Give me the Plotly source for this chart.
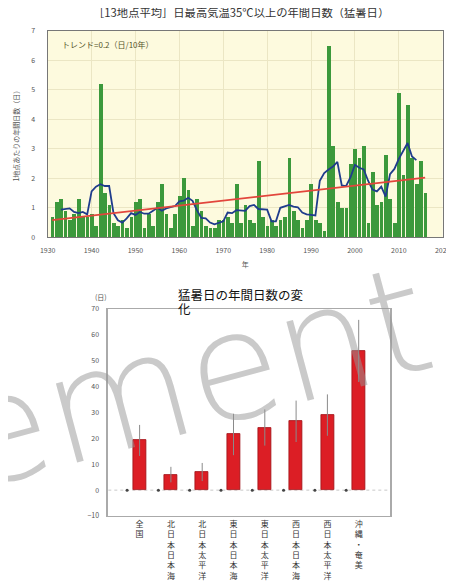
import numpy as np
import pandas as pd
import plotly.graph_objects as go

# ---------------- top chart data ----------------
years = list(range(1931, 2017))
days = [
    0.7, 1.2, 1.3, 0.9, 0.6, 0.8, 1.3, 0.7, 0.7,            # 1931-1939
    0.8, 0.4, 5.2, 1.5, 1.1, 0.5, 0.4, 0.6, 0.3, 0.7,       # 1940-1949
    1.2, 1.3, 0.3, 0.8, 0.4, 1.2, 1.8, 0.8, 0.3, 0.8,       # 1950-1959
    1.4, 2.0, 1.6, 0.4, 1.3, 0.9, 0.4, 0.3, 0.3, 0.6,       # 1960-1969
    0.6, 0.7, 0.5, 1.8, 0.5, 1.1, 0.6, 0.5, 2.6, 0.7,       # 1970-1979
    0.4, 0.6, 0.4, 0.6, 0.7, 2.7, 0.9, 0.6, 0.3, 0.6,       # 1980-1989
    1.8, 0.6, 0.5, 0.2, 6.5, 3.1, 1.2, 1.0, 1.0, 2.5,       # 1990-1999
    3.0, 2.7, 3.1, 0.5, 2.2, 1.1, 1.2, 2.8, 1.3, 0.5,       # 2000-2009
    4.9, 2.1, 4.5, 2.7, 1.8, 2.6, 1.5,                      # 2010-2016
]
x_ticks_top = [1930, 1940, 1950, 1960, 1970, 1980, 1990, 2000, 2010, 2020]
trend_label = "トレンド=0.2（日/10年）"

# 5-year running mean and linear trend derived from the data
ma5 = pd.Series(days, index=years).rolling(5, center=True).mean()
coef = np.polyfit(years, days, 1)
trend_x = [years[0], years[-1]]
trend_y = list(np.polyval(coef, trend_x))

# ---------------- bottom chart data ----------------
regions = ["全国", "北日本日本海側", "北日本太平洋側", "東日本日本海側",
           "東日本太平洋側", "西日本日本海側", "西日本太平洋側", "沖縄・奄美"]
change = [19.2, 6.0, 7.0, 21.5, 24.2, 26.6, 29.0, 53.8]
change_err = [6.0, 3.0, 3.5, 8.0, 7.0, 8.0, 8.0, 12.0]
base = [0, 0, 0, 0, 0, 0, 0, 0]

pos = list(range(len(regions)))
base_pos = [p - 0.4 for p in pos]
tick_text = ["<br>".join(list(r)) for r in regions]

# page body has an 8px margin: figure is placed at (8, 8) of the window
OFF = 8
W, H = 454 - OFF, 581 - OFF
def fx(a):
    return (a - OFF) / W
def fy(a):
    return 1 - (a - OFF) / H
def px_x(a, b):
    return [fx(a), fx(b)]
def px_y(top, bottom):
    return [fy(bottom), fy(top)]

FONT = "Noto Sans CJK JP, Noto Sans, sans-serif"

fig = go.Figure()
fig.add_trace(go.Bar(x=years, y=days, width=0.85, marker=dict(color="#3c993c", line=dict(width=0)),
                     xaxis="x", yaxis="y", showlegend=False))
fig.add_trace(go.Scatter(x=years, y=ma5.values, mode="lines", line=dict(color="#1f3c8c", width=1.8),
                         xaxis="x", yaxis="y", showlegend=False))
fig.add_trace(go.Scatter(x=trend_x, y=trend_y, mode="lines", line=dict(color="#e2463c", width=1.8),
                         xaxis="x", yaxis="y", showlegend=False))

fig.add_trace(go.Bar(x=pos, y=change, width=0.42,
                     marker=dict(color="#dc1e25", line=dict(color="#9e1116", width=0.8)),
                     error_y=dict(type="data", array=change_err, color="#8a8a8a", thickness=1, width=0),
                     xaxis="x2", yaxis="y2", showlegend=False))
fig.add_trace(go.Scatter(x=base_pos, y=base, mode="markers", marker=dict(color="#444", size=3),
                         xaxis="x2", yaxis="y2", showlegend=False))

fig.update_layout(
    width=W, height=H,
    margin=dict(l=0, r=0, t=0, b=0, autoexpand=False),
    paper_bgcolor="white", plot_bgcolor="white",
    font=dict(family=FONT, color="#444"),
    bargap=0,
    xaxis=dict(domain=px_x(47.7, 442.7), range=[1930, 2020], tickvals=x_ticks_top,
               showgrid=True, gridcolor="#ebe6c4", gridwidth=1, zeroline=False,
               showline=True, linecolor="#777", linewidth=1.2, mirror=True, automargin=False,
               ticks="", tickfont=dict(size=7, color="#555"), ticklabelstandoff=6,
               title=dict(text="年", font=dict(size=7, color="#555"), standoff=8),
               anchor="y"),
    yaxis=dict(domain=px_y(31, 237.3), range=[0, 7], dtick=1,
               showgrid=True, gridcolor="#ebe6c4", gridwidth=1, zeroline=False,
               showline=True, linecolor="#777", linewidth=1.2, mirror=True, automargin=False,
               ticks="", tickfont=dict(size=7, color="#555"), ticklabelstandoff=10,
               title=dict(text="1地点あたりの年間日数（日）", font=dict(size=7, color="#555"), standoff=10),
               anchor="x"),
    xaxis2=dict(domain=px_x(108.3, 390), range=[-1, 8], tickvals=pos, ticktext=tick_text,
                showgrid=False, zeroline=False, showline=True, linecolor="#aaa", linewidth=1.2,
                mirror=True, automargin=False, ticks="", tickfont=dict(size=8, color="#333"),
                anchor="y2"),
    yaxis2=dict(domain=px_y(309, 516), range=[-10, 70], dtick=10,
                showgrid=False, zeroline=False, showline=True, linecolor="#aaa", linewidth=1.5,
                mirror=True, automargin=False, ticks="", tickfont=dict(size=7, color="#555"),
                ticklabelstandoff=6, anchor="x2"),
    shapes=[
        dict(type="rect", xref="x domain", yref="y domain", x0=0, x1=1, y0=0, y1=1,
             fillcolor="#fdfade", line=dict(width=0), layer="below"),
        dict(type="line", xref="x2 domain", yref="y2", x0=0, x1=1, y0=0, y1=0,
             line=dict(color="#c8c8c8", width=1, dash="dot"), layer="below"),
    ],
    annotations=[
        dict(text="［13地点平均］日最高気温35℃以上の年間日数（猛暑日）", xref="paper", yref="paper",
             x=fx(241), y=fy(12), showarrow=False, font=dict(size=11.3, color="#333"),
             xanchor="center", yanchor="middle"),
        dict(text=trend_label, xref="x domain", yref="y domain", x=0.03, y=0.935,
             showarrow=False, font=dict(size=8, color="#55552a"), xanchor="left", yanchor="middle"),
        dict(text="猛暑日の年間日数の変", xref="paper", yref="paper", x=fx(176), y=fy(294),
             showarrow=False, font=dict(size=12.5, color="#111"), xanchor="left", yanchor="middle"),
        dict(text="化", xref="paper", yref="paper", x=fx(176), y=fy(308),
             showarrow=False, font=dict(size=12.5, color="#111"), xanchor="left", yanchor="middle"),
        dict(text="(日)", xref="paper", yref="paper", x=fx(101), y=fy(297), showarrow=False,
             font=dict(size=7, color="#555"), xanchor="center", yanchor="middle"),
        dict(text="ement", xref="paper", yref="paper", x=fx(192), y=fy(378), showarrow=False,
             font=dict(size=150, color="rgba(150,150,150,0.5)", family="DejaVu Sans", weight=200),
             textangle=-15, xanchor="center", yanchor="middle"),
    ],
)

fig.write_html("out.html")
